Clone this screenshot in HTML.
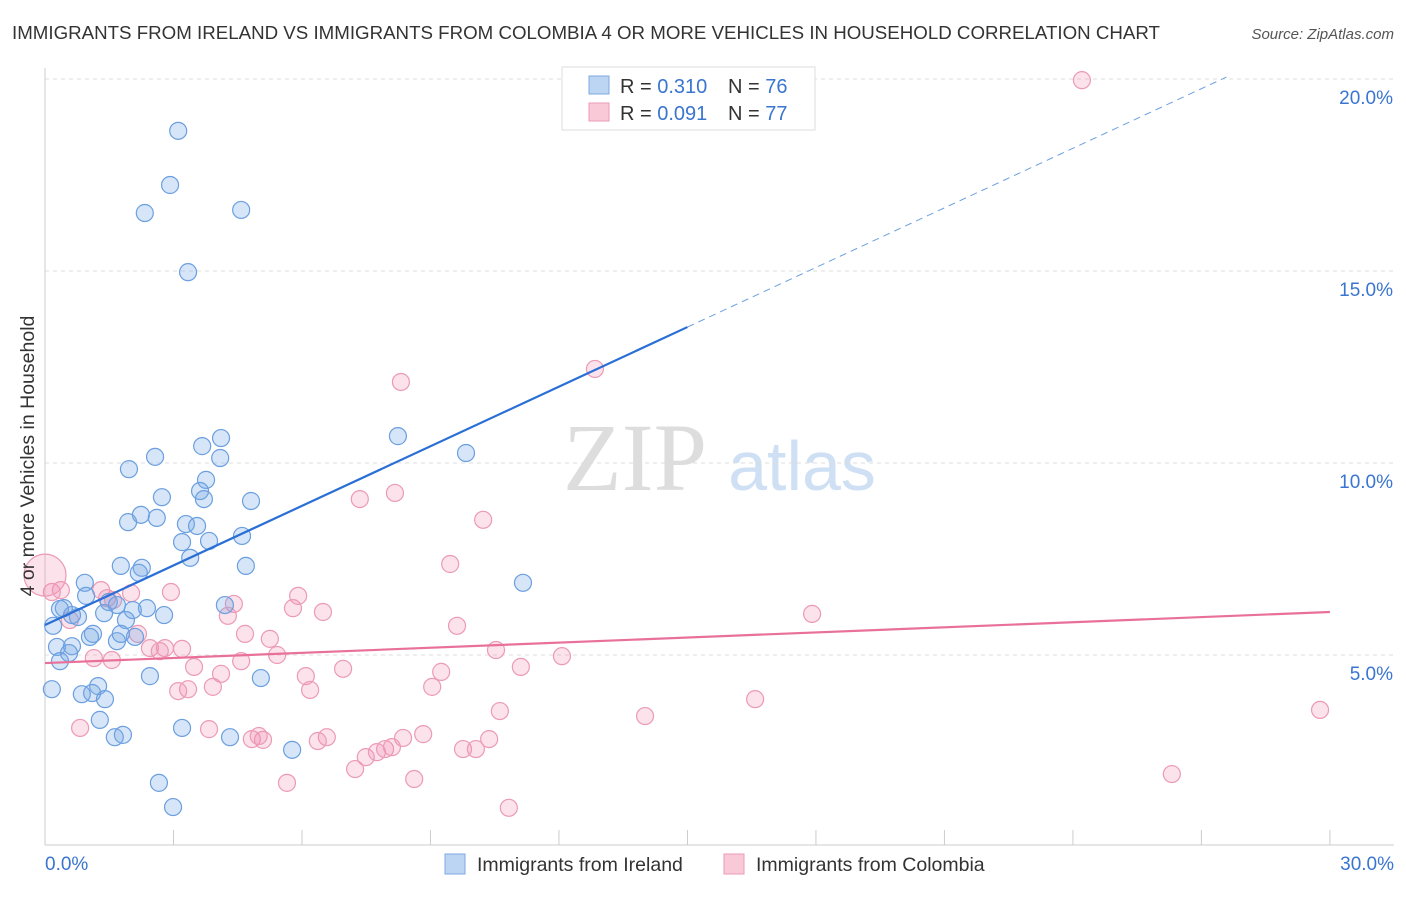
<!DOCTYPE html>
<html><head><meta charset="utf-8"><style>
body{margin:0;background:#fff;font-family:"Liberation Sans",sans-serif;}
svg text{font-family:"Liberation Sans",sans-serif;}
</style></head><body>
<svg id="chart" width="1406" height="892" xmlns="http://www.w3.org/2000/svg">
<text x="12" y="39" font-size="18" fill="#333" textLength="1148" lengthAdjust="spacingAndGlyphs">IMMIGRANTS FROM IRELAND VS IMMIGRANTS FROM COLOMBIA 4 OR MORE VEHICLES IN HOUSEHOLD CORRELATION CHART</text>
<text x="1394" y="39" font-size="15" fill="#555" font-style="italic" text-anchor="end">Source: ZipAtlas.com</text>
<g>
<text x="635" y="490" font-size="96" fill="#ddd" text-anchor="middle" style="font-family:'Liberation Serif',serif">ZIP</text>
<text x="802" y="490" font-size="70" fill="#cfe0f4" text-anchor="middle">atlas</text>
</g>
<g id="grid"></g>
<g id="axes"></g>
<g id="pts"></g>
<g id="lines"></g>
<text transform="translate(34,456) rotate(-90)" font-size="19.5" fill="#333" text-anchor="middle">4 or more Vehicles in Household</text>
<g>
<rect x="562" y="67" width="253" height="63" fill="#fff" stroke="#ddd"/>
<rect x="589" y="76" width="20" height="18" fill="#bcd5f3" stroke="#7ea8e0"/>
<rect x="589" y="103" width="20" height="18" fill="#f9c9d8" stroke="#ec9ab6"/>
<text x="620" y="93" font-size="20" fill="#333">R = <tspan fill="#3a75d0">0.310</tspan></text>
<text x="728" y="93" font-size="20" fill="#333">N = <tspan fill="#3a75d0">76</tspan></text>
<text x="620" y="120" font-size="20" fill="#333">R = <tspan fill="#3a75d0">0.091</tspan></text>
<text x="728" y="120" font-size="20" fill="#333">N = <tspan fill="#3a75d0">77</tspan></text>
</g>
<g>
<rect x="445" y="854" width="20" height="20" fill="#bcd5f3" stroke="#7ea8e0"/>
<text x="477" y="871" font-size="19.5" fill="#333">Immigrants from Ireland</text>
<rect x="724" y="854" width="20" height="20" fill="#f9c9d8" stroke="#ec9ab6"/>
<text x="756" y="871" font-size="19.5" fill="#333">Immigrants from Colombia</text>
</g>
</svg>
<script>
const yTicks=[5,10,15,20];
const yTickLabels=["5.0%","10.0%","15.0%","20.0%"];
const xTicks=[0,3,6,9,12,15,18,21,24,27,30];
const xEndLabels=["0.0%","30.0%"];
const irelandX=[3.11,2.92,2.33,4.58,3.34,8.24,9.83,4.11,3.67,4.09,1.96,2.57,3.76,3.62,2.73,3.71,4.81,2.24,1.94,2.61,3.29,3.55,3.20,3.83,4.60,3.39,1.77,2.26,2.19,4.69,11.16,0.93,0.44,0.96,0.35,1.49,1.68,2.38,2.78,1.38,2.05,0.77,0.63,0.19,1.89,4.20,1.12,1.05,1.68,2.10,1.77,0.28,0.63,0.56,0.35,2.45,5.04,1.24,0.16,0.86,1.10,1.40,1.28,3.20,1.63,1.82,4.32,5.77,2.66,2.99];
const irelandY=[18.65,17.24,16.51,16.59,14.97,10.70,10.26,10.65,10.44,10.13,9.84,10.16,9.56,9.27,9.11,9.06,9.01,8.65,8.46,8.57,8.41,8.36,7.94,7.97,8.10,7.53,7.32,7.27,7.14,7.32,6.88,6.88,6.22,6.54,6.20,6.38,6.30,6.22,6.04,6.09,6.17,5.99,6.04,5.76,5.91,6.30,5.55,5.47,5.36,5.47,5.55,5.21,5.23,5.05,4.84,4.45,4.40,4.19,4.11,3.98,4.01,3.85,3.31,3.10,2.86,2.92,2.86,2.53,1.67,1.04];
const colombiaX=[24.21,12.84,8.31,8.17,7.35,10.23,9.46,2.94,1.31,2.01,0.37,0.16,5.91,1.45,1.59,4.41,5.79,6.49,17.91,9.62,4.27,0.58,2.17,4.67,5.25,2.45,2.80,3.20,2.68,10.53,5.42,12.07,1.14,1.56,4.58,3.48,6.96,11.11,9.25,6.09,4.11,3.92,3.34,3.11,6.19,9.04,16.58,10.62,14.01,29.77,0.82,3.83,4.83,5.09,4.99,6.58,6.37,8.36,8.83,10.37,7.49,7.75,7.94,8.10,9.76,10.06,7.24,8.62,5.65,10.83,26.31];
const colombiaY=[19.97,12.45,12.11,9.22,9.06,8.52,7.37,6.64,6.69,6.61,6.69,6.64,6.54,6.48,6.43,6.33,6.22,6.12,6.07,5.76,6.02,5.91,5.55,5.55,5.42,5.18,5.18,5.16,5.10,5.13,5.00,4.97,4.92,4.87,4.84,4.69,4.64,4.69,4.56,4.45,4.51,4.17,4.11,4.06,4.09,4.17,3.85,3.54,3.41,3.57,3.10,3.07,2.81,2.79,2.89,2.86,2.76,2.84,2.94,2.81,2.34,2.47,2.55,2.60,2.55,2.55,2.03,1.77,1.67,1.02,1.90];
const bigPoint=[0,7.08];
const irelandTrend=[5.78,13.54];
const colombiaTrend=[4.79,6.12];
const NS="http://www.w3.org/2000/svg";
const sx=v=>45+v*42.83, sy=v=>847-v*38.4;
function mk(t,a,p){const e=document.createElementNS(NS,t);for(const k in a)e.setAttribute(k,a[k]);p.appendChild(e);return e;}
const grid=document.getElementById('grid'),axes=document.getElementById('axes'),pts=document.getElementById('pts'),lines=document.getElementById('lines');
yTicks.forEach((v,i)=>{
 const l=mk('line',{x1:45,x2:1394,y1:sy(v),y2:sy(v),stroke:'#ddd','stroke-dasharray':'4,4'},grid);
 
 
 const t=mk('text',{x:1393,y:sy(v)+25,'font-size':19,fill:'#3a75d0','text-anchor':'end'},axes);
 t.textContent=yTickLabels[i];
 
 
});
mk('line',{x1:45,x2:1394,y1:79,y2:79,stroke:'#ddd','stroke-dasharray':'4,4'},grid);
const ax=mk('line',{x1:45,x2:45,y1:68,y2:845,stroke:'#ccc'},axes);


const bx=mk('line',{x1:45,x2:1394,y1:845,y2:845,stroke:'#ccc'},axes);


xTicks.forEach(v=>{
 const l=mk('line',{x1:sx(v),x2:sx(v),y1:830,y2:845,stroke:'#ccc'},axes);
 
 
});
[[0,'start',45],[30,'end',1394]].forEach((d,i)=>{
 const t=mk('text',{x:d[2],y:870,'font-size':19,fill:'#3a75d0','text-anchor':d[1]},axes);
 t.textContent=xEndLabels[i];
 
 
});
colombiaX.forEach((x,i)=>{
 const c=mk('circle',{cx:sx(x),cy:sy(colombiaY[i]),r:8.5,fill:'rgba(240,140,175,0.25)',stroke:'#ec9ab6','stroke-width':1.2},pts);
 
 
});
const bp=mk('circle',{cx:sx(bigPoint[0]),cy:sy(bigPoint[1]),r:21,fill:'rgba(240,140,175,0.25)',stroke:'#ec9ab6','stroke-width':1.2},pts);


irelandX.forEach((x,i)=>{
 const c=mk('circle',{cx:sx(x),cy:sy(irelandY[i]),r:8.5,fill:'rgba(120,170,230,0.3)',stroke:'#6b9fe0','stroke-width':1.2},pts);
 
 
});
const slopeI=(irelandTrend[1]-irelandTrend[0])/15;
const l1=mk('line',{x1:sx(0),y1:sy(irelandTrend[0]),x2:sx(15),y2:sy(irelandTrend[1]),stroke:'#2a6fd6','stroke-width':2.2},lines);


const xe=(20.05-irelandTrend[0])/slopeI;
const l2=mk('line',{x1:sx(15),y1:sy(irelandTrend[1]),x2:sx(xe),y2:sy(20.05),stroke:'#6b9fe0','stroke-width':1,'stroke-dasharray':'7,5'},lines);


const l3=mk('line',{x1:sx(0),y1:sy(colombiaTrend[0]),x2:sx(30),y2:sy(colombiaTrend[1]),stroke:'#e8709a','stroke-width':2.2},lines);


</script>
</body></html>
